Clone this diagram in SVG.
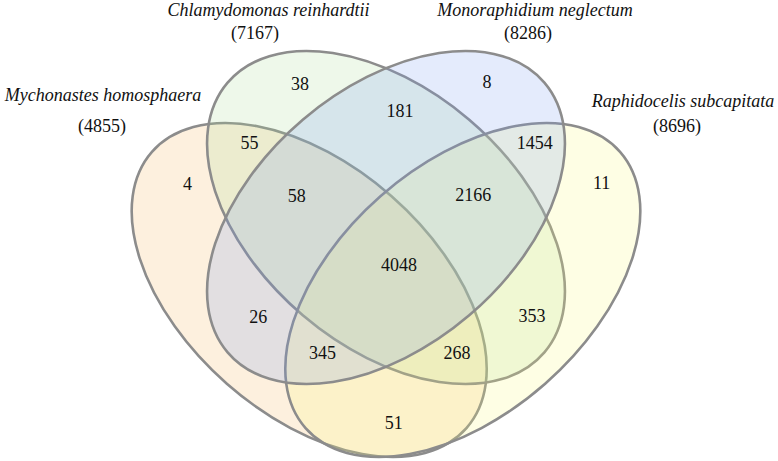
<svg xmlns="http://www.w3.org/2000/svg" width="778" height="461" viewBox="0 0 778 461">
<style>
.set{stroke:#8c8c8c;stroke-width:2.6;fill-opacity:0.2}
.t{font-family:"Liberation Serif","Times New Roman",serif;font-size:18px;fill:#111;text-anchor:middle}
.n{font-style:italic}
</style>
<rect width="778" height="461" fill="#fff"/>
<g id="set-mychonastes">
<ellipse class="set" cx="309.2" cy="290" rx="209.3" ry="124.8" transform="rotate(41.3 309.2 290)" fill="#f5b45a"/>
<text class="t n" x="103" y="101">Mychonastes homosphaera</text>
<text class="t" x="102" y="132">(4855)</text>
</g>
<g id="set-chlamydomonas">
<ellipse class="set" cx="386" cy="217.5" rx="208" ry="128.4" transform="rotate(40.4 386 217.5)" fill="#aadc96"/>
<text class="t n" x="268.5" y="15.5">Chlamydomonas reinhardtii</text>
<text class="t" x="255" y="39">(7167)</text>
</g>
<g id="set-raphidocelis">
<ellipse class="set" cx="462.8" cy="290" rx="209.3" ry="124.8" transform="rotate(-41.3 462.8 290)" fill="#fafa78"/>
<text class="t n" x="683" y="107">Raphidocelis subcapitata</text>
<text class="t" x="677" y="132">(8696)</text>
</g>
<g id="set-monoraphidium">
<ellipse class="set" cx="386" cy="217.5" rx="208" ry="128.4" transform="rotate(-40.4 386 217.5)" fill="#789bf0"/>
<text class="t n" x="535" y="15.5">Monoraphidium neglectum</text>
<text class="t" x="528" y="39">(8286)</text>
</g>
<g id="connectors"></g>
<g id="region-counts" class="t">
<text x="300" y="90">38</text>
<text x="487" y="88">8</text>
<text x="249.5" y="149">55</text>
<text x="400" y="117">181</text>
<text x="534.7" y="148.5">1454</text>
<text x="187.5" y="190">4</text>
<text x="296.7" y="202">58</text>
<text x="473.3" y="201">2166</text>
<text x="601.7" y="189">11</text>
<text x="399" y="271">4048</text>
<text x="258.3" y="322.5">26</text>
<text x="532" y="322">353</text>
<text x="322.5" y="358.5">345</text>
<text x="457" y="358.5">268</text>
<text x="393.8" y="428.5">51</text>
</g>
</svg>
